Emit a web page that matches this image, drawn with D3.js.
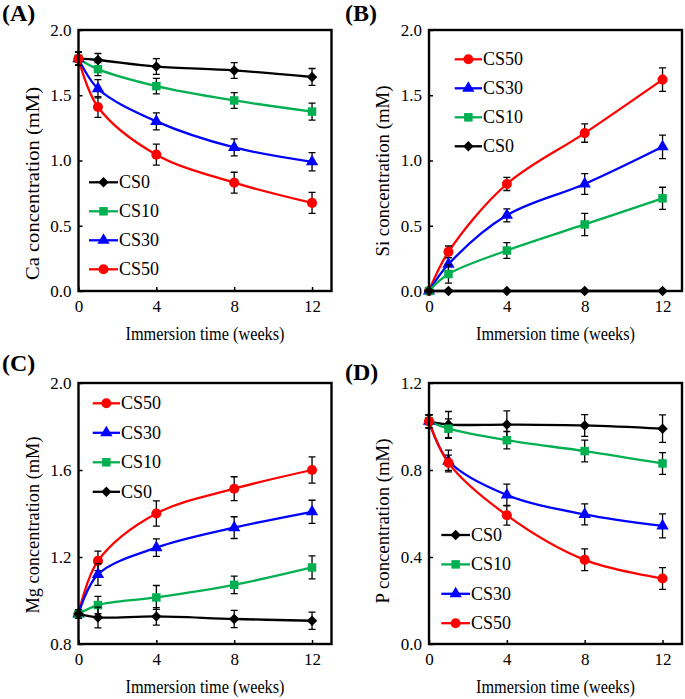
<!DOCTYPE html>
<html><head><meta charset="utf-8">
<script src="https://cdn.jsdelivr.net/npm/d3@7"></script>
<style>
body{margin:0;background:#fff}
svg{display:block}
text{font-family:"Liberation Serif","Times New Roman",serif;fill:#000}
</style>
</head><body>
<svg id="chart" width="685" height="699"></svg>
<script>
// ---------- data ----------
const weeks = [0, 1, 4, 8, 12];
const xTicks = [0, 4, 8, 12];
const seriesNames = ["CS0", "CS10", "CS30", "CS50"];
const seriesColors = ["#000000", "#00b050", "#0000ff", "#ff0000"];

// (A) Ca
const caCS0 = [1.78, 1.77, 1.72, 1.69, 1.64];
const caCS10 = [1.78, 1.70, 1.57, 1.46, 1.375];
const caCS30 = [1.78, 1.55, 1.30, 1.10, 0.99];
const caCS50 = [1.78, 1.41, 1.045, 0.83, 0.675];
const caErrCS0 = [0.05, 0.05, 0.06, 0.06, 0.065];
const caErrCS10 = [0.05, 0.05, 0.06, 0.06, 0.065];
const caErrCS30 = [0.05, 0.07, 0.065, 0.065, 0.07];
const caErrCS50 = [0.05, 0.08, 0.08, 0.08, 0.08];
const caTicks = [0, 0.5, 1.0, 1.5, 2.0];

// (B) Si
const siCS0 = [0, 0, 0, 0, 0];
const siCS10 = [0, 0.13, 0.31, 0.51, 0.71];
const siCS30 = [0, 0.205, 0.58, 0.82, 1.105];
const siCS50 = [0, 0.30, 0.82, 1.21, 1.62];
const siErrCS0 = [0, 0, 0, 0, 0];
const siErrCS10 = [0, 0.07, 0.06, 0.085, 0.085];
const siErrCS30 = [0, 0.05, 0.05, 0.08, 0.09];
const siErrCS50 = [0, 0.045, 0.05, 0.07, 0.09];
const siTicks = [0, 0.5, 1.0, 1.5, 2.0];

// (C) Mg
const mgCS0 = [0.938, 0.922, 0.927, 0.915, 0.907];
const mgCS10 = [0.938, 0.979, 1.014, 1.072, 1.152];
const mgCS30 = [0.938, 1.12, 1.243, 1.335, 1.408];
const mgCS50 = [0.938, 1.182, 1.40, 1.514, 1.60];
const mgErrCS0 = [0.02, 0.048, 0.04, 0.04, 0.04];
const mgErrCS10 = [0.02, 0.04, 0.055, 0.04, 0.053];
const mgErrCS30 = [0.02, 0.05, 0.04, 0.05, 0.053];
const mgErrCS50 = [0.02, 0.045, 0.058, 0.055, 0.06];
const mgTicks = [0.8, 1.2, 1.6, 2.0];

// (D) P
const pCS0 = [1.024, 1.009, 1.009, 1.005, 0.99];
const pCS10 = [1.024, 0.99, 0.937, 0.887, 0.83];
const pCS30 = [1.024, 0.841, 0.685, 0.596, 0.543];
const pCS50 = [1.024, 0.833, 0.592, 0.387, 0.301];
const pErrCS0 = [0.03, 0.06, 0.063, 0.05, 0.063];
const pErrCS10 = [0.03, 0.045, 0.04, 0.05, 0.05];
const pErrCS30 = [0.03, 0.05, 0.05, 0.048, 0.055];
const pErrCS50 = [0.03, 0.035, 0.045, 0.05, 0.05];
const pTicks = [0, 0.4, 0.8, 1.2];

// ---------- panels ----------
const panels = [
  {label: "(A)", labelX: 2, labelY: 21, ytitle: "Ca concentration  (mM)", ytLen: 193, ytCy: 183.5,
   left: 78.5, right: 331.5, top: 30, bottom: 291, ydom: [0, 2], yticks: caTicks,
   values: [caCS0, caCS10, caCS30, caCS50], errs: [caErrCS0, caErrCS10, caErrCS30, caErrCS50],
   order: [0, 1, 2, 3], legX0: 89, legX1: 118, legY0: 182.3, legStep: 29},
  {label: "(B)", labelX: 345, labelY: 21, ytitle: "Si concentration (mM)", ytLen: 171, ytCy: 171,
   left: 429, right: 682, top: 30, bottom: 291, ydom: [0, 2], yticks: siTicks,
   values: [siCS0, siCS10, siCS30, siCS50], errs: [siErrCS0, siErrCS10, siErrCS30, siErrCS50],
   order: [3, 2, 1, 0], legX0: 454.7, legX1: 482, legY0: 59.3, legStep: 29},
  {label: "(C)", labelX: 2, labelY: 371, ytitle: "Mg concentration (mM)", ytLen: 177, ytCy: 525,
   left: 78.5, right: 331.5, top: 383, bottom: 644, ydom: [0.8, 2.0], yticks: mgTicks,
   values: [mgCS0, mgCS10, mgCS30, mgCS50], errs: [mgErrCS0, mgErrCS10, mgErrCS30, mgErrCS50],
   order: [3, 2, 1, 0], legX0: 92.7, legX1: 120, legY0: 403.3, legStep: 29.5},
  {label: "(D)", labelX: 345, labelY: 380, ytitle: "P concentration (mM)", ytLen: 165, ytCy: 521,
   left: 429, right: 682, top: 383, bottom: 644, ydom: [0, 1.2], yticks: pTicks,
   values: [pCS0, pCS10, pCS30, pCS50], errs: [pErrCS0, pErrCS10, pErrCS30, pErrCS50],
   order: [0, 1, 2, 3], legX0: 441.3, legX1: 470, legY0: 535, legStep: 29.4}
];

const symbols = [
  {type: d3.symbolSquare, size: 55, rot: 45},   // diamond
  {type: d3.symbolSquare, size: 72, rot: 0},    // square
  {type: d3.symbolTriangle, size: 66, rot: 0},  // triangle
  {type: d3.symbolCircle, size: 80, rot: 0}     // circle
];

const svg = d3.select("#chart");

function drawMarker(g, si, x, y) {
  const s = symbols[si];
  g.append("path")
    .attr("d", d3.symbol().type(s.type).size(s.size)())
    .attr("transform", `translate(${x},${y}) rotate(${s.rot})`)
    .attr("fill", seriesColors[si]);
}

panels.forEach(p => {
  const g = svg.append("g");
  const x = d3.scaleLinear().domain([0, 13]).range([p.left, p.right]);
  const y = d3.scaleLinear().domain(p.ydom).range([p.bottom, p.top]);

  // axes with inward ticks
  const xAxis = d3.axisBottom(x).tickValues(xTicks).tickSizeInner(-4).tickSizeOuter(0).tickPadding(9).tickFormat(d3.format("d"));
  const yAxis = d3.axisLeft(y).tickValues(p.yticks).tickSizeInner(-4).tickSizeOuter(0).tickPadding(7).tickFormat(d3.format(".1f"));
  const gx = g.append("g").attr("transform", `translate(0,${p.bottom})`).call(xAxis);
  const gy = g.append("g").attr("transform", `translate(${p.left},0)`).call(yAxis);
  [gx, gy].forEach(a => {
    a.attr("font-family", null);
    a.select(".domain").remove();
    a.selectAll(".tick line").attr("stroke", "#000").attr("stroke-width", 1.5);
    a.selectAll(".tick text").attr("font-size", 17).attr("fill", "#000");
  });

  // series
  const line = d3.line().x((d, i) => x(weeks[i])).y(d => y(d)).curve(d3.curveCatmullRom.alpha(0.5));
  p.order.forEach(si => {
    const vals = p.values[si], errs = p.errs[si];
    g.append("path").attr("d", line(vals)).attr("fill", "none")
      .attr("stroke", seriesColors[si]).attr("stroke-width", 2.3);
    vals.forEach((v, i) => {
      const e = errs[i];
      if (e > 0) {
        const cx = x(weeks[i]);
        g.append("path")
          .attr("d", `M${cx},${y(v - e)}V${y(v + e)}M${cx - 3.5},${y(v - e)}H${cx + 3.5}M${cx - 3.5},${y(v + e)}H${cx + 3.5}`)
          .attr("stroke", "#000").attr("stroke-width", 1.3).attr("fill", "none");
      }
    });
    vals.forEach((v, i) => drawMarker(g, si, x(weeks[i]), y(v)));
  });

  // frame
  g.append("rect").attr("x", p.left).attr("y", p.top)
    .attr("width", p.right - p.left).attr("height", p.bottom - p.top)
    .attr("fill", "none").attr("stroke", "#000").attr("stroke-width", 2.4);

  // legend
  p.order.forEach((si, k) => {
    const ly = p.legY0 + k * p.legStep;
    g.append("line").attr("x1", p.legX0).attr("x2", p.legX1).attr("y1", ly).attr("y2", ly)
      .attr("stroke", seriesColors[si]).attr("stroke-width", 2.3);
    drawMarker(g, si, (p.legX0 + p.legX1) / 2, ly);
    g.append("text").attr("x", p.legX1 + 1).attr("y", ly + 6).attr("font-size", 18).text(seriesNames[si]);
  });

  // titles
  g.append("text").attr("x", (p.left + p.right) / 2).attr("y", p.bottom + 49)
    .attr("text-anchor", "middle").attr("font-size", 18.5)
    .attr("textLength", 159).attr("lengthAdjust", "spacingAndGlyphs")
    .text("Immersion time (weeks)");
  g.append("text").attr("transform", `translate(${p.left - 40},${p.ytCy}) rotate(-90)`)
    .attr("text-anchor", "middle").attr("font-size", 18.5)
    .attr("textLength", p.ytLen).attr("lengthAdjust", "spacingAndGlyphs")
    .text(p.ytitle);
  g.append("text").attr("x", p.labelX).attr("y", p.labelY)
    .attr("font-size", 24).attr("font-weight", "bold").text(p.label);
});
</script>
</body></html>
